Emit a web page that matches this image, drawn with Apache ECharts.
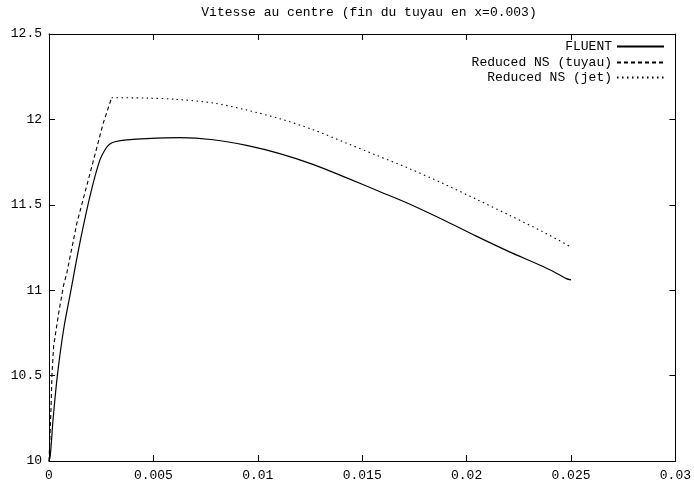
<!DOCTYPE html>
<html><head><meta charset="utf-8">
<script src="https://cdn.jsdelivr.net/npm/echarts@6/dist/echarts.min.js"></script>
<style>html,body{margin:0;padding:0;background:#fff}#c{width:694px;height:483px}</style>
</head><body><div id="c"></div>
<script>
const titleText = 'Vitesse au centre (fin du tuyau en x=0.003)';
const seriesNames = ['FLUENT', 'Reduced NS (tuyau)', 'Reduced NS (jet)'];
const xTicks = [0, 0.005, 0.01, 0.015, 0.02, 0.025, 0.03];
const yTicks = [10, 10.5, 11, 11.5, 12, 12.5];

const fluent = [
  [0, 10.0], [0.00006, 10.03], [0.0002, 10.25], [0.0004, 10.5], [0.0007, 10.77], [0.00102, 10.98],
  [0.0015, 11.29], [0.00198, 11.56], [0.00243, 11.76], [0.00272, 11.83], [0.0029, 11.855],
  [0.00316, 11.869], [0.00373, 11.880], [0.00468, 11.888], [0.00627, 11.893], [0.00786, 11.881],
  [0.00946, 11.848], [0.01105, 11.800], [0.01264, 11.737], [0.01423, 11.659], [0.01583, 11.578],
  [0.01726, 11.505], [0.01885, 11.414], [0.02044, 11.318], [0.02203, 11.226], [0.02364, 11.14],
  [0.02442, 11.092], [0.02478, 11.068], [0.025, 11.06]
];
const tuyau = [
  [0, 10.0], [0.0001, 10.32], [0.00014, 10.5], [0.00022, 10.67], [0.00046, 10.864], [0.0007, 11.03],
  [0.00085, 11.098], [0.00133, 11.39], [0.00196, 11.682], [0.00259, 11.975], [0.003, 12.127]
];
const jet = [
  [0.003, 12.127], [0.00468, 12.125], [0.00605, 12.118], [0.00786, 12.096], [0.00946, 12.055],
  [0.01105, 12.004], [0.01264, 11.94], [0.01423, 11.862], [0.0157, 11.789], [0.01726, 11.712],
  [0.01885, 11.626], [0.02044, 11.534], [0.02203, 11.44], [0.02364, 11.343], [0.025, 11.253]
];

const chart = echarts.init(document.getElementById('c'));
const mono = 'Liberation Mono';
const axisCommon = {
  type: 'value', splitLine: {show: false},
  axisLine: {show: true, onZero: false, lineStyle: {color: '#000', width: 1}},
  axisTick: {show: true, inside: true, length: 6, lineStyle: {color: '#000'}}
};
function mkLegend(name, top) {
  return {
    data: [name], right: 29, top: top, align: 'right', orient: 'vertical',
    itemWidth: 47, itemHeight: 12, itemGap: 0, padding: 0,
    itemStyle: {opacity: 0},
    textStyle: {fontFamily: mono, fontSize: 13, color: '#000'},
    selectedMode: false
  };
}
chart.setOption({
  animation: false,
  backgroundColor: '#fff',
  title: {text: titleText, left: 364, textAlign: 'center', top: 1,
    textStyle: {fontFamily: mono, fontSize: 13, fontWeight: 'normal', color: '#000'}},
  legend: [mkLegend(seriesNames[0], 40), mkLegend(seriesNames[1], 56), mkLegend(seriesNames[2], 71)],
  grid: {left: 49, right: 15, top: 34, bottom: 22, containLabel: false},
  xAxis: [
    Object.assign({}, axisCommon, {min: 0, max: 0.03, interval: 0.005, position: 'bottom',
      axisLabel: {fontFamily: mono, fontSize: 13, color: '#000', margin: 8,
        formatter: v => String(Number(v.toFixed(3)))}}),
    Object.assign({}, axisCommon, {min: 0, max: 0.03, interval: 0.005, position: 'top',
      axisLabel: {show: false}})
  ],
  yAxis: [
    Object.assign({}, axisCommon, {min: 10, max: 12.5, interval: 0.5, position: 'left',
      axisLabel: {fontFamily: mono, fontSize: 13, color: '#000', margin: 7,
        formatter: v => String(Number(v.toFixed(1)))}}),
    Object.assign({}, axisCommon, {min: 10, max: 12.5, interval: 0.5, position: 'right',
      axisLabel: {show: false}})
  ],
  series: [
    {name: seriesNames[0], type: 'line', data: fluent, symbol: 'none', smooth: 0.3,
      lineStyle: {color: '#000', width: 1.2, type: 'solid'}, itemStyle: {color: '#000'}},
    {name: seriesNames[1], type: 'line', data: tuyau, symbol: 'none',
      lineStyle: {color: '#000', width: 1.1, type: [4, 3]}, itemStyle: {color: '#000'}},
    {name: seriesNames[2], type: 'line', data: jet, symbol: 'none', smooth: 0.3,
      lineStyle: {color: '#000', width: 1.1, type: [1.5, 3.5]}, itemStyle: {color: '#000'}}
  ]
});
</script></body></html>
